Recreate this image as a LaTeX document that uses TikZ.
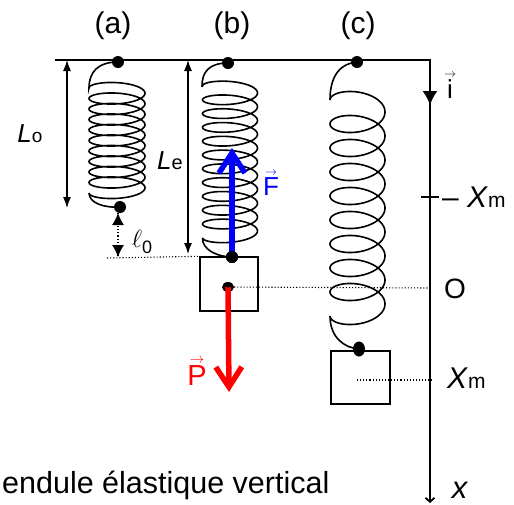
\documentclass[tikz,border=0pt]{standalone}
\usepackage{fontspec}
\setmainfont{Liberation Sans}
\usetikzlibrary{arrows.meta,shapes.geometric}
\newcommand{\vect}[1]{\ensuremath{\stackrel{\scriptscriptstyle\rightarrow}{\mbox{#1}}}}
\newcommand{\fsz}[1]{\fontsize{#1}{#1}\selectfont}

\begin{document}
\begin{tikzpicture}[x=1pt,y=-1pt,
  dot/.style={circle, fill, inner sep=0pt, minimum size=12pt},
  coil/.style={line width=1.6pt},
  dim/.style={line width=1.2pt, {Latex[length=11pt,width=8pt]}-{Latex[length=11pt,width=8pt]}},
  lbl/.style={inner sep=0pt, font=\fsz{26}}]
\useasboundingbox (0,0) rectangle (514,504);

% ceiling and axis
\coordinate (ceil) at (55,60);
\coordinate (corner) at (430,60);
\coordinate (axend) at (430,503);
\draw[line width=1.8pt, -{Straight Barb[length=4pt,width=9pt]}] (ceil) -- (corner) -- (axend);
\coordinate (itip) at (430,105);
\draw[line width=1.8pt, -{Latex[length=14pt,width=15pt]}] (corner) -- (itip);
\coordinate (tickl) at (421,197);
\coordinate (tickr) at (439,197);
\draw[line width=1.4pt] (tickl) -- (tickr);

% labels
\node[lbl, font=\fsz{30}] (la) at (113,26) {(a)};
\node[lbl, font=\fsz{30}] (lb) at (232,26) {(b)};
\node[lbl, font=\fsz{30}] (lc) at (358,26) {(c)};

% spring (a)
\node[dot] (topa) at (118,62) {};
\node[dot] (bota) at (120,207) {};
\draw[coil] (topa.center) .. controls (98,62) and (89,72) .. (89,88)
  -- plot[domain=180:3780, samples=500, smooth] ({117+28*cos(\x)}, {88+(\x-180)/360*10.5+8*sin(\x)})
  .. controls (89,203) and (104,208) .. (bota.center);
\coordinate (loa) at (67,60);
\coordinate (lob) at (67,208);
\draw[dim] (loa) -- (lob);
\node[lbl, anchor=base] (Lo) at (30,142) {\textit{L}\fsz{19}o};
\coordinate (ella) at (118,213);
\coordinate (ellb) at (118,257);
\draw[line width=1.2pt, dotted] (ella) -- (ellb);
\draw[line width=1.2pt, -{Latex[length=12pt,width=12pt]}] (ellb) ++(0,-10) -- (ellb);
\draw[line width=1.2pt, -{Latex[length=12pt,width=12pt]}] (ella) ++(0,10) -- (ella);
\node[lbl, font=\fsz{24}] (ell) at (142,242) {$\ell$\raisebox{-6pt}{\fsz{18}0}};
\coordinate (lvl) at (107,258);

% spring (b)
\node[draw, line width=1.4pt, minimum width=58pt, minimum height=54pt, inner sep=0pt] (masb) at (229,284) {};
\node[dot] (topb) at (228,63) {};
\node[dot] (botb) at (232,257) {};
\draw[coil] (topb.center) .. controls (209,63) and (202,72) .. (202,86)
  -- plot[domain=180:4140, samples=550, smooth] ({230+27.5*cos(\x)}, {86+(\x-180)/360*13.8+8*sin(\x)})
  .. controls (202,250) and (218,257) .. (botb.center);
\coordinate (lea) at (188,60);
\coordinate (leb) at (188,254);
\draw[dim] (lea) -- (leb);
\node[lbl, anchor=base] (Le) at (170,169) {\textit{L}\fsz{20}e};
\draw[line width=1.1pt, dotted] (lvl) -- (masb.north west);
\node[dot, minimum width=12pt, minimum height=10pt, ellipse] (cgb) at (228,287) {};
\coordinate (pt) at (229,392);
\draw[red, line width=5.5pt, -{Straight Barb[length=20pt,width=26pt]}] (cgb.center) -- (pt);
\coordinate (ft) at (232,148);
\draw[blue, line width=5.5pt, -{Straight Barb[length=20pt,width=26pt]}] (botb.center) -- (ft);
\node[dot] at (botb) {};
\node[lbl, anchor=base, blue] (F) at (271,195) {\vect{F}};
\node[lbl, anchor=base, red, font=\fsz{29}] (P) at (197,385) {\vect{P}};
\draw[line width=1.1pt, dotted] (cgb.center) -- (430,288);

% spring (c)
\node[draw, line width=1.4pt, minimum width=59pt, minimum height=53pt, inner sep=0pt] (masc) at (360.5,377.5) {};
\node[dot] (topc) at (357,62) {};
\node[dot, minimum width=12pt, minimum height=15pt, ellipse] (botc) at (359,349) {};
\draw[coil] (topc.center) .. controls (337,64) and (330,80) .. (330,100)
  -- plot[domain=180:3420, samples=500, smooth] ({357.5+27.5*cos(\x)}, {100+(\x-180)/360*24+14*sin(\x)})
  .. controls (330,338) and (345,348) .. (botc.center);
\coordinate (xm) at (357,380);
\draw[line width=1.1pt, dotted] (xm) -- (432,380);

% axis labels
\node[lbl, anchor=base] (ivec) at (450,98) {\vect{i}};
\node[lbl, anchor=base west, font=\fsz{30}] (mxm) at (442,207) {-- \textit{X}\fsz{21}m};
\node[lbl, anchor=base, font=\fsz{28}] (O) at (455,298) {O};
\node[lbl, anchor=base west, font=\fsz{30}] (xmb) at (447,388) {\textit{X}\fsz{21}m};
\node[lbl, anchor=base, font=\fsz{31}] (xx) at (460,498) {\textit{x}};

% caption
\node[lbl, anchor=base west, font=\fsz{30.5}] (cap) at (2,493) {endule élastique vertical};
\end{tikzpicture}
\end{document}
